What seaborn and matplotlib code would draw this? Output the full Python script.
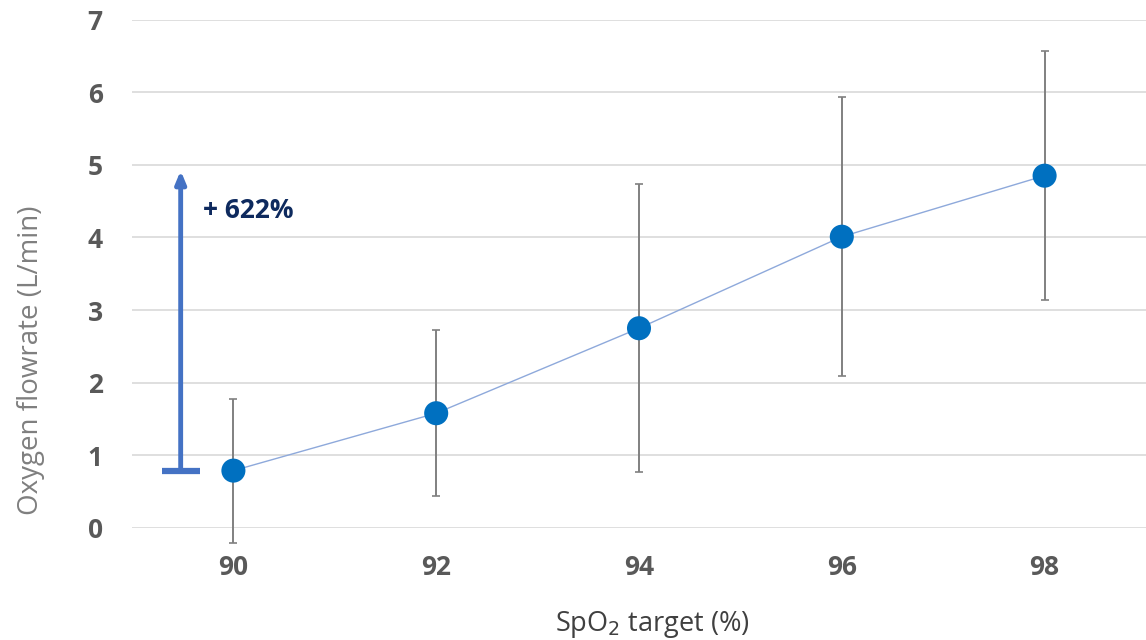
import matplotlib
matplotlib.use("Agg")
import matplotlib.pyplot as plt
import seaborn as sns
import pandas as pd

spo2_target = [90, 92, 94, 96, 98]
flow_mean = [0.79, 1.58, 2.75, 4.01, 4.85]
flow_sd = [0.99, 1.14, 1.98, 1.92, 1.71]
y_ticks = [0, 1, 2, 3, 4, 5, 6, 7]
annot_text = "+ 622%"

df = pd.DataFrame({"spo2": spo2_target, "flow": flow_mean, "sd": flow_sd})

sns.set_theme(style="white")
plt.rcParams['font.family'] = ['Open Sans', 'DejaVu Sans']

fig = plt.figure(figsize=(11.46, 6.4), dpi=100)
ax = fig.add_axes([132/1146, 1-528/640, 1-132/1146, (528-19.5)/640])

ax.errorbar(df["spo2"], df["flow"], yerr=df["sd"], fmt="none",
            ecolor="#808080", elinewidth=1.4, capsize=3, capthick=1.2,
            zorder=2, clip_on=False)
sns.lineplot(data=df, x="spo2", y="flow", ax=ax, color="#8EA9DB",
             linewidth=1.0, zorder=3)
sns.scatterplot(data=df, x="spo2", y="flow", ax=ax, color="#0070C0",
                s=300, edgecolor="none", zorder=4, clip_on=False)

ax.set_xlim(89, 99)
ax.set_ylim(0, 7)
ax.set_xticks(spo2_target)
ax.set_yticks(y_ticks)
ax.yaxis.grid(True, color="#D9D9D9", linewidth=1.2)
ax.xaxis.grid(False)
for s in ax.spines.values():
    s.set_visible(False)
ax.tick_params(axis="both", length=0, labelsize=19, labelcolor="#595959")
ax.tick_params(axis="y", pad=21)
ax.tick_params(axis="x", pad=19)
for lab in ax.get_xticklabels() + ax.get_yticklabels():
    lab.set_fontweight("bold")

ax.set_xlabel("SpO$_2$ target (%)", fontsize=19.5, color="#404040")
ax.set_ylabel("Oxygen flowrate (L/min)", fontsize=20, color="#7F7F7F")
ax.xaxis.set_label_coords((652-132)/1014, (528-609)/508.5)
ax.yaxis.set_label_coords((45-132)/1014, (528-360)/508.5)

# annotation arrow
ax.annotate("", xy=(89.48, 4.92), xytext=(89.48, flow_mean[0]),
            arrowprops=dict(arrowstyle="-|>,head_length=0.6,head_width=0.25",
                            color="#4472C4", lw=3.5, shrinkA=0, shrinkB=0),
            zorder=5)
ax.plot([89.30, 89.67], [flow_mean[0], flow_mean[0]], color="#4472C4",
        linewidth=4.5, solid_capstyle="butt", zorder=5)
ax.text(89.70, 4.37, annot_text, fontsize=19, fontweight="bold",
        color="#0E2A5E", va="center", ha="left")

fig.savefig("out.png", dpi=100)
